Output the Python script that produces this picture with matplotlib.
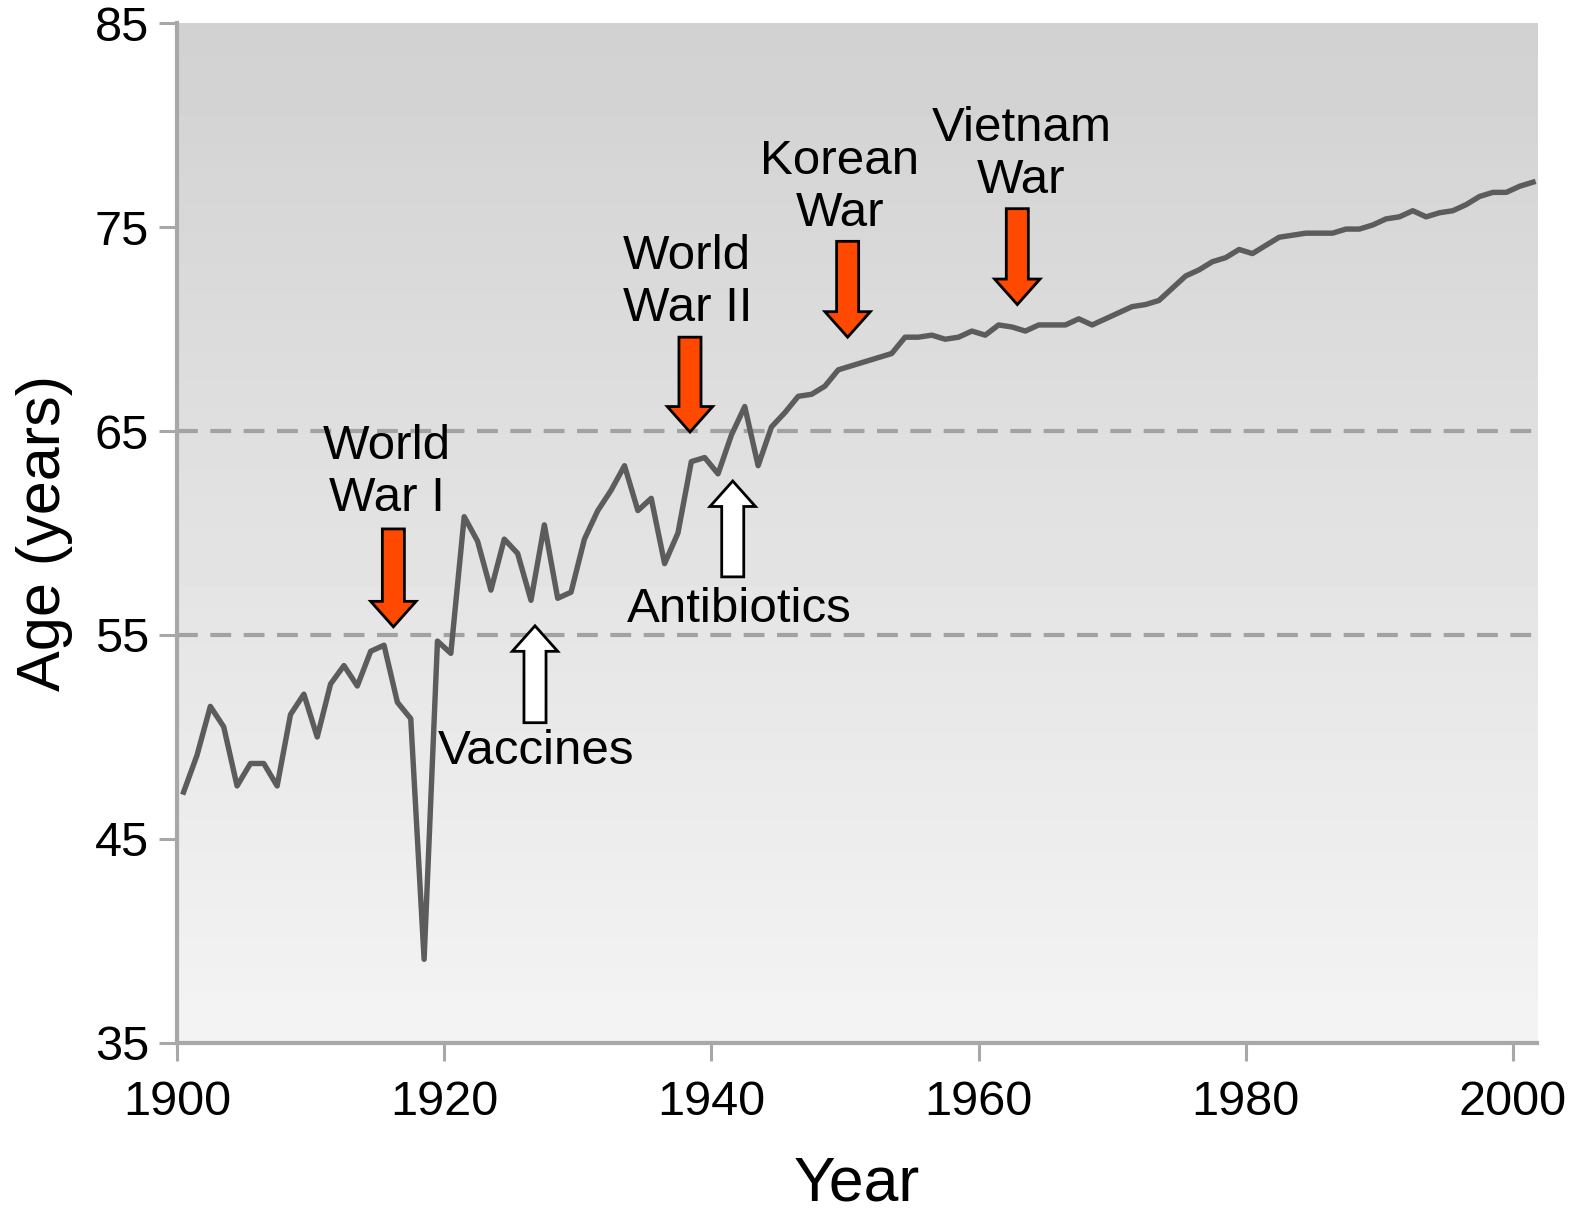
import numpy as np
import matplotlib
matplotlib.use("Agg")
import matplotlib.pyplot as plt
from matplotlib.patches import FancyArrow

plt.rcParams['font.family'] = ['Liberation Sans', 'DejaVu Sans']

# US life expectancy at birth, 1900-2001
years = list(range(1900, 2002))
life_expectancy = [
    47.3, 49.1, 51.5, 50.5, 47.6, 48.7, 48.7, 47.6, 51.1, 52.1,
    50.0, 52.6, 53.5, 52.5, 54.2, 54.5, 51.7, 50.9, 39.1, 54.7,
    54.1, 60.8, 59.6, 57.2, 59.7, 59.0, 56.7, 60.4, 56.8, 57.1,
    59.7, 61.1, 62.1, 63.3, 61.1, 61.7, 58.5, 60.0, 63.5, 63.7,
    62.9, 64.8, 66.2, 63.3, 65.2, 65.9, 66.7, 66.8, 67.2, 68.0,
    68.2, 68.4, 68.6, 68.8, 69.6, 69.6, 69.7, 69.5, 69.6, 69.9,
    69.7, 70.2, 70.1, 69.9, 70.2, 70.2, 70.2, 70.5, 70.2, 70.5,
    70.8, 71.1, 71.2, 71.4, 72.0, 72.6, 72.9, 73.3, 73.5, 73.9,
    73.7, 74.1, 74.5, 74.6, 74.7, 74.7, 74.7, 74.9, 74.9, 75.1,
    75.4, 75.5, 75.8, 75.5, 75.7, 75.8, 76.1, 76.5, 76.7, 76.7,
    77.0, 77.2,
]

x_ticks = [1900, 1920, 1940, 1960, 1980, 2000]
y_ticks = [35, 45, 55, 65, 75, 85]
reference_ages = [55, 65]

# Event annotations: label, arrow x, arrow tail y, arrow tip y, label x, label y
war_events = [
    ("World\nWar I", 1916.2, 60.2, 55.4, 1915.7, 62.95),
    ("World\nWar II", 1938.4, 69.6, 64.95, 1938.2, 72.3),
    ("Korean\nWar", 1950.2, 74.3, 69.6, 1949.6, 76.95),
    ("Vietnam\nWar", 1962.9, 75.9, 71.2, 1963.2, 78.55),
]
advances = [
    ("Vaccines", 1926.8, 50.7, 55.45, 1926.9, 49.3),
    ("Antibiotics", 1941.6, 57.85, 62.55, 1942.1, 56.25),
]

fig = plt.figure(figsize=(15.7, 12.14), dpi=100)
ax = fig.add_axes([0.1127, 0.1409, 0.8663, 0.8401])
xmin, xmax = 1900, 2001.8
ymin, ymax = 35, 85
ax.set_xlim(xmin, xmax)
ax.set_ylim(ymin, ymax)

# vertical grey gradient background
grad = np.linspace(0.955, 0.82, 256).reshape(-1, 1)
ax.imshow(grad, cmap='gray', vmin=0, vmax=1, aspect='auto',
          extent=[xmin, xmax, ymin, ymax], origin='lower', zorder=0,
          interpolation='bilinear')

for yv in reference_ages:
    ax.axhline(yv, color='#a2a2a2', lw=3, linestyle=(0, (5, 3)), zorder=1)

# mid-year plotting positions
xs = np.array(years) + 0.5
ax.plot(xs, life_expectancy, color='#5c5c5c', lw=3.9, solid_joinstyle='round',
        zorder=3)

shaft_w = 1.65
head_w = 3.4
head_len = 1.25
for label, ax_x, tail_y, tip_y, tx, ty in war_events:
    arr = FancyArrow(ax_x, tail_y, 0, tip_y - tail_y, width=shaft_w,
                     head_width=head_w, head_length=head_len,
                     length_includes_head=True, facecolor='#ff4800',
                     edgecolor='black', lw=2, zorder=4)
    ax.add_patch(arr)
    ax.text(tx, ty, label, ha='center', va='center', fontsize=35.5,
            linespacing=1.2, zorder=5)

for label, ax_x, tail_y, tip_y, tx, ty in advances:
    arr = FancyArrow(ax_x, tail_y, 0, tip_y - tail_y, width=shaft_w,
                     head_width=head_w, head_length=head_len,
                     length_includes_head=True, facecolor='white',
                     edgecolor='black', lw=2, zorder=4)
    ax.add_patch(arr)
    ax.text(tx, ty, label, ha='center', va='center', fontsize=35.5, zorder=5)

ax.set_xticks(x_ticks)
ax.set_yticks(y_ticks)
ax.tick_params(axis='both', direction='out', length=13, width=2.2,
               color='#a8a8a8', labelsize=35)
ax.tick_params(axis='x', pad=14)
ax.tick_params(axis='y', pad=7)

for side in ['top', 'right']:
    ax.spines[side].set_visible(False)
for side in ['left', 'bottom']:
    ax.spines[side].set_color('#a8a8a8')
    ax.spines[side].set_linewidth(3)

ax.set_xlabel('Year', fontsize=45, labelpad=21)
ax.set_ylabel('Age (years)', fontsize=44, labelpad=16)

fig.savefig('out.png', dpi=100, facecolor='white')
